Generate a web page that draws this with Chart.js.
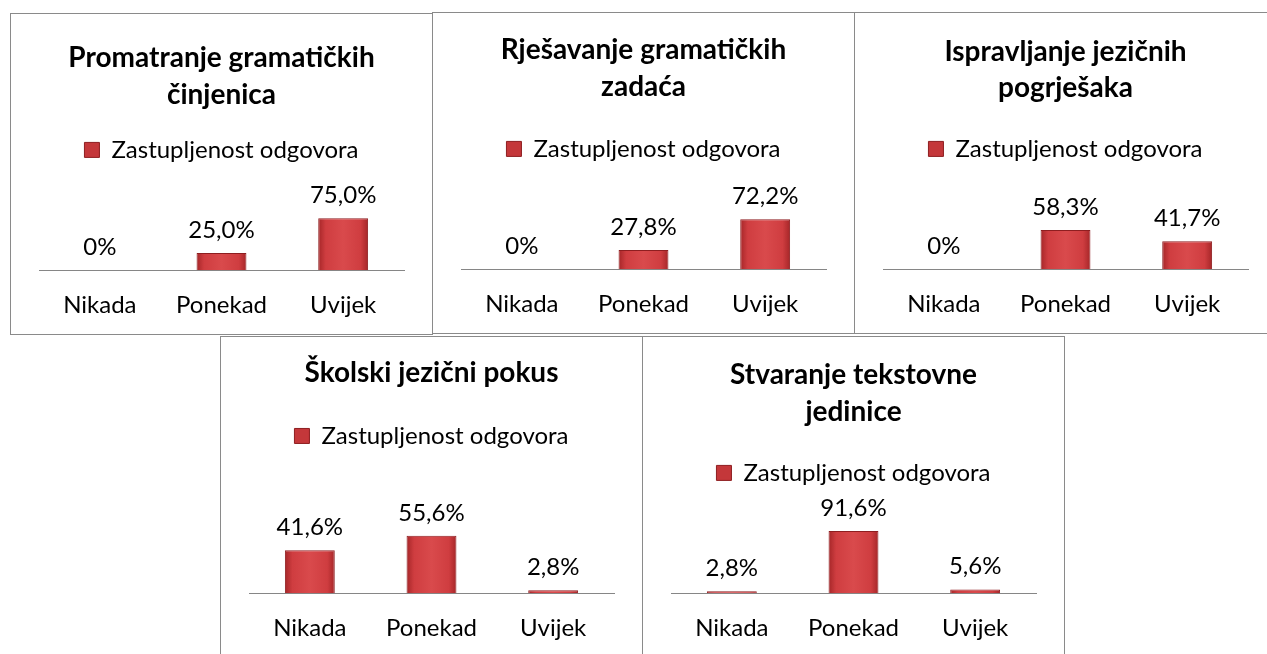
<!DOCTYPE html>
<html>
<head>
<meta charset="utf-8">
<script src="https://cdn.jsdelivr.net/npm/chart.js@4.4.0/dist/chart.umd.min.js"></script>
<style>
  html, body { margin: 0; padding: 0; background: #fff; overflow: hidden; }
  body { width: 1267px; height: 654px; position: relative; }
  .panel { position: absolute; box-sizing: border-box; width: 423px; height: 322px; border: 1px solid #8a8a8a; background: #fff; overflow: hidden; }
  .panel canvas { display: block; }
</style>
</head>
<body>
<div class="panel" style="left:10px;top:13px;"><canvas id="c1" width="421" height="340"></canvas></div>
<div class="panel" style="left:432px;top:12px;"><canvas id="c2" width="421" height="340"></canvas></div>
<div class="panel" style="left:854px;top:12px;"><canvas id="c3" width="421" height="340"></canvas></div>
<div class="panel" style="left:220px;top:336px;"><canvas id="c4" width="421" height="340"></canvas></div>
<div class="panel" style="left:642px;top:336px;"><canvas id="c5" width="421" height="340"></canvas></div>
<script>
// kategorije i vrijednosti (postoci)
const categories = ['Nikada', 'Ponekad', 'Uvijek'];
const seriesName = 'Zastupljenost odgovora';

const title1 = ['Promatranje gramatičkih', 'činjenica'];
const title2 = ['Rješavanje gramatičkih', 'zadaća'];
const title3 = ['Ispravljanje jezičnih', 'pogrješaka'];
const title4 = ['Školski jezični pokus'];
const title5 = ['Stvaranje tekstovne', 'jedinice'];

const values1 = [0, 25.0, 75.0];
const values2 = [0, 27.8, 72.2];
const values3 = [0, 58.3, 41.7];
const values4 = [41.6, 55.6, 2.8];
const values5 = [2.8, 91.6, 5.6];

// gornja granica osi y po grafu
const yMax1 = 142;
const yMax2 = 142;
const yMax3 = 146;
const yMax4 = 131;
const yMax5 = 145;

const FONT = 'Lato';
const BAR_PCT = 0.41;

function fmt(v) {
    return v === 0 ? '0%' : v.toFixed(1).replace('.', ',') + '%';
}

// nijansiranje stupca (tamniji rubovi, svjetlija sredina)
function barFill(c) {
    const chart = c.chart;
    const xs = chart.scales.x;
    if (!xs || !chart.chartArea) return '#c9393b';
    const cx = xs.getPixelForValue(c.dataIndex);
    const half = (xs.width / categories.length) * BAR_PCT / 2;
    const g = chart.ctx.createLinearGradient(cx - half, 0, cx + half, 0);
    g.addColorStop(0, '#a52628');
    g.addColorStop(0.15, '#cf3d40');
    g.addColorStop(0.5, '#d94a4c');
    g.addColorStop(0.85, '#cf3d40');
    g.addColorStop(1, '#a52628');
    return g;
}

const barLabels = {
    id: 'barLabels',
    afterDatasetsDraw(chart) {
        const ctx = chart.ctx;
        const meta = chart.getDatasetMeta(0);
        ctx.save();
        ctx.font = '24px ' + FONT;
        ctx.fillStyle = '#000';
        ctx.textAlign = 'center';
        ctx.textBaseline = 'middle';
        meta.data.forEach((bar, i) => {
            ctx.fillText(fmt(chart.data.datasets[0].data[i]), bar.x, bar.y - 23);
        });
        ctx.restore();
    }
};

function createChart(chartId, titleLines, values, yMax, padTop, padBottom) {
    const ctx = document.getElementById(chartId).getContext('2d');
    return new Chart(ctx, {
        type: 'bar',
        data: {
            labels: categories,
            datasets: [{
                label: seriesName,
                data: values,
                backgroundColor: barFill,
                borderColor: '#8e1e20',
                borderWidth: 1,
                categoryPercentage: 1,
                barPercentage: BAR_PCT
            }]
        },
        options: {
            responsive: false,
            animation: false,
            layout: { padding: { top: 0, left: 28, right: 28, bottom: 13 } },
            plugins: {
                title: {
                    display: true,
                    text: titleLines,
                    color: '#000',
                    font: { family: FONT, size: 28, weight: 'bold', lineHeight: 1.32 },
                    padding: { top: padTop, bottom: padBottom }
                },
                legend: {
                    display: true,
                    position: 'top',
                    labels: {
                        color: '#000',
                        font: { family: FONT, size: 24 },
                        boxWidth: 15,
                        boxHeight: 15,
                        padding: 10,
                        generateLabels: () => [{
                            text: seriesName,
                            fillStyle: '#c4373a',
                            strokeStyle: '#8e1e20',
                            lineWidth: 1,
                            datasetIndex: 0
                        }]
                    }
                },
                tooltip: { enabled: false }
            },
            scales: {
                x: {
                    grid: { display: false, drawTicks: false },
                    border: { display: true, color: '#868686', width: 1 },
                    ticks: { color: '#000', font: { family: FONT, size: 24 }, padding: 21 }
                },
                y: { display: false, min: 0, max: yMax }
            }
        },
        plugins: [barLabels]
    });
}

createChart('c1', title1, values1, yMax1, 25.5, 14.5);
createChart('c2', title2, values2, yMax2, 18.5, 21.5);
createChart('c3', title3, values3, yMax3, 20, 20);
createChart('c4', title4, values4, yMax4, 17.5, 22.5);
createChart('c5', title5, values5, yMax5, 19.5, 20.5);
</script>
</body>
</html>
